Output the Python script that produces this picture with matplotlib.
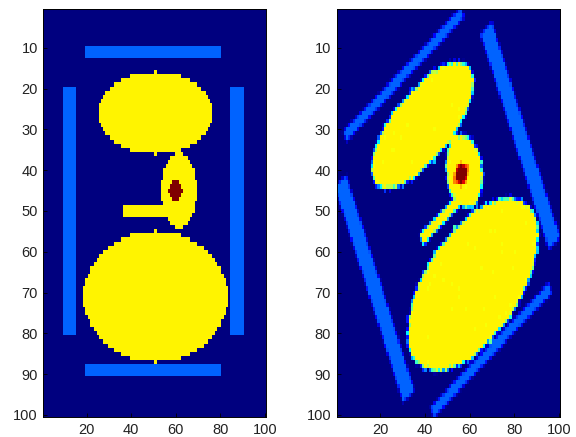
"""
Phantom image and the same phantom rotated by 30 degrees (bilinear)
"""

import numpy as np
import matplotlib
matplotlib.use("Agg")
import matplotlib.pyplot as plt
from matplotlib.colors import LinearSegmentedColormap

N = 100  # image size (rows, cols)
angle = 30.  # rotation in degrees, counterclockwise

# grey levels of the phantom
level_bar = 0.22
level_organ = 0.625
level_spot = 1.0

# rectangles: row_from, row_to, col_from, col_to
bars = [(10, 12, 20, 80),
        (88, 90, 20, 80),
        (20, 80, 10, 15),
        (20, 80, 85, 90)]
sticks = [(49, 51, 37, 58)]

# ellipses: center row, center col, half height, half width
organs = [(26, 51, 10, 25.6),
          (71, 51, 16, 32.3),
          (45, 61.5, 9.5, 7.8)]
spots = [(45, 60, 2.3, 3.3)]

xticks = [20, 40, 60, 80, 100]
yticks = [10, 20, 30, 40, 50, 60, 70, 80, 90, 100]

# building the phantom
r, c = np.mgrid[1:N+1, 1:N+1]
img = np.zeros((N, N))
for r0, r1, c0, c1 in bars:
    img[(r >= r0) & (r <= r1) & (c >= c0) & (c <= c1)] = level_bar
for r0, r1, c0, c1 in sticks:
    img[(r >= r0) & (r <= r1) & (c >= c0) & (c <= c1)] = level_organ
for cy, cx, ry, rx in organs:
    img[((r-cy)/ry)**2 + ((c-cx)/rx)**2 <= 1] = level_organ
for cy, cx, ry, rx in spots:
    img[((r-cy)/ry)**2 + ((c-cx)/rx)**2 <= 1] = level_spot

# rotating with bilinear interpolation (crop to same size)
th = np.deg2rad(angle)
ctr = (N+1)/2
xo = c - ctr
yo = r - ctr
xs = xo*np.cos(th) - yo*np.sin(th) + ctr
ys = xo*np.sin(th) + yo*np.cos(th) + ctr
pad = np.zeros((N+2, N+2))
pad[1:-1, 1:-1] = img
xs = np.clip(xs, 0, N+1)
ys = np.clip(ys, 0, N+1)
x0 = np.clip(np.floor(xs).astype(int), 0, N)
y0 = np.clip(np.floor(ys).astype(int), 0, N)
fx = xs - x0
fy = ys - y0
rot = (pad[y0, x0]*(1-fx)*(1-fy) + pad[y0, x0+1]*fx*(1-fy)
       + pad[y0+1, x0]*(1-fx)*fy + pad[y0+1, x0+1]*fx*fy)

# matlab-like jet
jet = LinearSegmentedColormap.from_list(
    "mjet", [(0, (0, 0, 0.5)), (1/8, (0, 0, 1)), (3/8, (0, 1, 1)),
             (5/8, (1, 1, 0)), (7/8, (1, 0, 0)), (1, (0.5, 0, 0))], N=64)

plt.rcParams['font.family'] = ['Liberation Sans', 'DejaVu Sans']
fig = plt.figure(figsize=(5.76, 4.37), dpi=100)
positions = [[0.0752, 0.0458, 0.3866, 0.9336],
             [0.5845, 0.0458, 0.3877, 0.9336]]
for pos, data in zip(positions, [img, rot]):
    ax = fig.add_axes(pos)
    ax.imshow(data, cmap=jet, vmin=data.min(), vmax=data.max(),
              interpolation='nearest', aspect='auto',
              extent=[0.5, N+0.5, N+0.5, 0.5])
    ax.set_xticks(xticks)
    ax.set_yticks(yticks)
    ax.tick_params(direction='in', length=3, width=0.6, colors='black',
                   labelsize=10.5, labelcolor='#222222', pad=4)
    for s in ax.spines.values():
        s.set_linewidth(0.7)

plt.savefig("out.png", dpi=100)
